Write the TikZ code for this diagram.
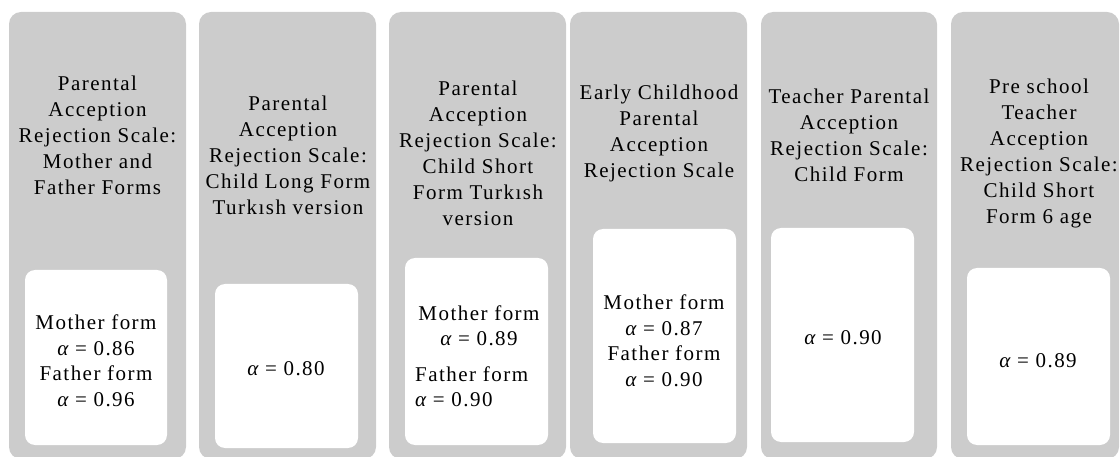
\documentclass[tikz,border=0pt]{standalone}
\usepackage{fontspec}
\setmainfont{Liberation Serif}[LetterSpace=7]
\begin{document}
\begin{tikzpicture}[x=1pt,y=-1pt,
  col/.style={fill=black!20, rounded corners=12pt},
  inbox/.style={fill=white, rounded corners=10pt},
  ttl/.style={align=center, font=\fontsize{21}{26}\selectfont, inner sep=0pt},
  val/.style={align=center, font=\fontsize{21}{25.5}\selectfont, inner sep=0pt}]
\useasboundingbox (0,0) rectangle (1120,457);
% columns
\path[col] (9,12) rectangle (186,459);
\path[col] (199,12) rectangle (376,459);
\path[col] (389,12) rectangle (566,459);
\path[col] (570,12) rectangle (747,459);
\path[col] (761,12) rectangle (937,459);
\path[col] (951,12) rectangle (1119,459);
% inner boxes
\path[inbox] (25,270) rectangle (167,445);
\path[inbox] (215,284) rectangle (358,448);
\path[inbox] (405,258) rectangle (548,445);
\path[inbox] (593,229) rectangle (736,443);
\path[inbox] (771,228) rectangle (914,442);
\path[inbox] (967,268) rectangle (1110,445);
% titles
\node[ttl] (t1) at (97.5,135) {Parental\\Acception\\Rejection Scale:\\Mother and\\Father Forms};
\node[ttl] (t2) at (288,155) {Parental\\Acception\\Rejection Scale:\\Child Long Form\\Turkısh version};
\node[ttl] (t3) at (478,153) {Parental\\Acception\\Rejection Scale:\\Child Short\\Form Turkısh\\version};
\node[ttl] (t4) at (659,133) {Early Childhood\\Parental\\Acception\\Rejection Scale};
\node[ttl] (t5) at (849,135) {Teacher Parental\\Acception\\Rejection Scale:\\Child Form};
\node[ttl] (t6) at (1039,153) {Pre school\\Teacher\\Acception\\Rejection Scale:\\Child Short\\Form 6 age};
% values
\node[val] (v1) at (96,361) {Mother form\\{\itshape α} = 0.86\\Father form\\{\itshape α} = 0.96};
\node[val] (v2) at (286,369) {{\itshape α} = 0.80};
\node[val] (v3a) at (479,326) {Mother form\\{\itshape α} = 0.89};
\node[val, align=left, anchor=west] (v3b) at (415,387) {Father form\\{\itshape α} = 0.90};
\node[val] (v4) at (664,341) {Mother form\\{\itshape α} = 0.87\\Father form\\{\itshape α} = 0.90};
\node[val] (v5) at (843,338) {{\itshape α} = 0.90};
\node[val] (v6) at (1038,361) {{\itshape α} = 0.89};
\end{tikzpicture}
\end{document}
